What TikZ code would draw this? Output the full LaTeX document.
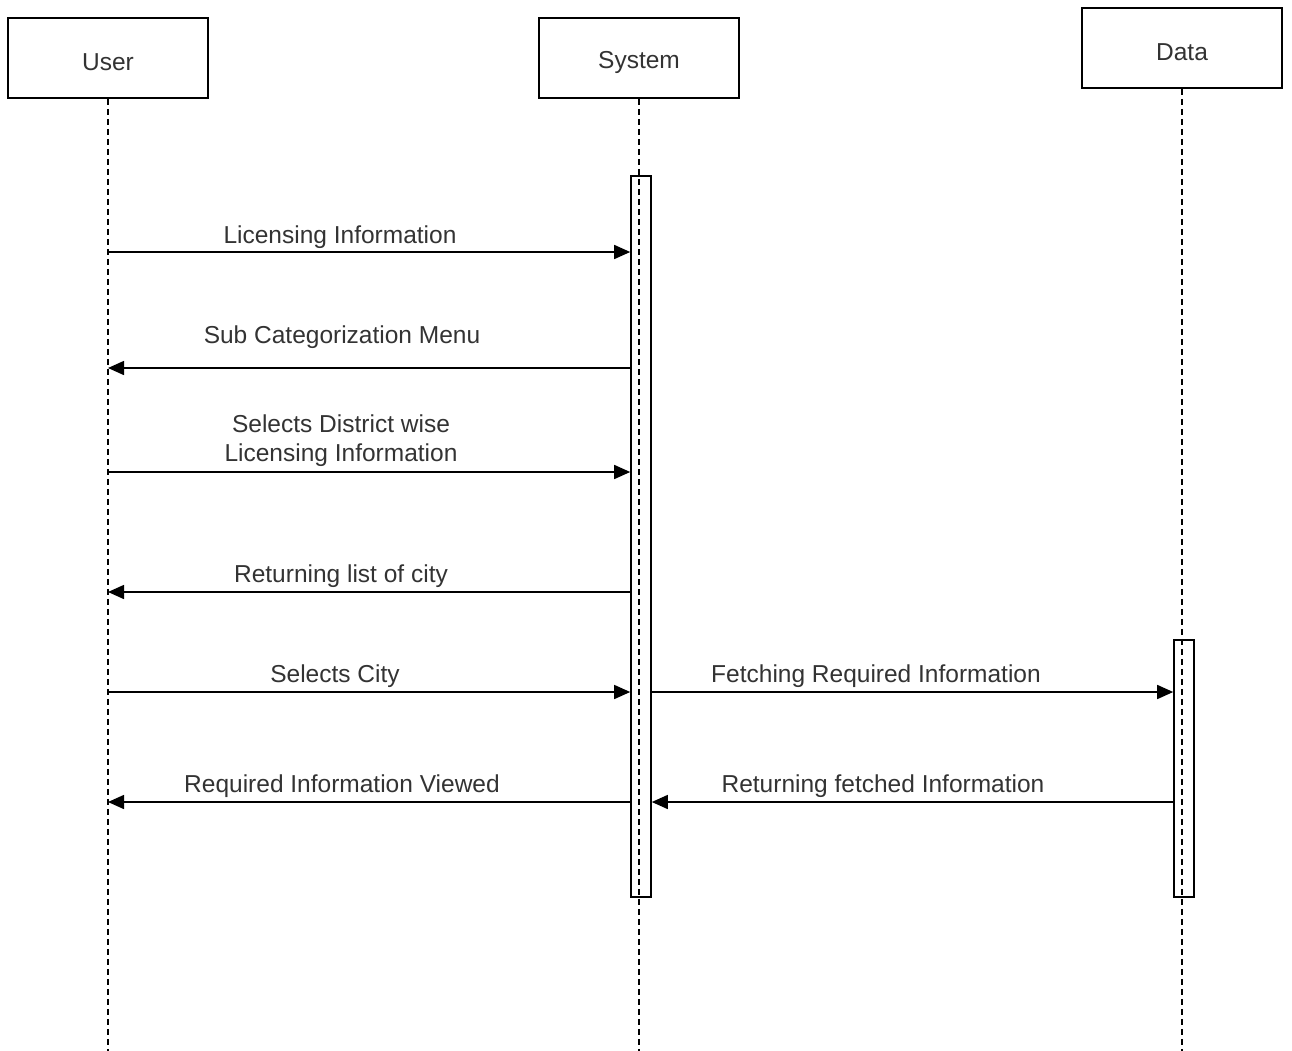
\documentclass[tikz,border=0pt]{standalone}
\usepackage{fontspec}
\setmainfont{Liberation Sans}
\usetikzlibrary{arrows.meta}
\begin{document}
\begin{tikzpicture}[x=1pt,y=-1pt,
  txt/.style={text=black!80, font=\fontsize{24.5}{29}\selectfont},
  actor/.style={draw, line width=1.6pt, minimum width=200pt, minimum height=80pt, inner sep=0pt, fill=white},
  life/.style={line width=1.3pt, dash pattern=on 6pt off 4pt},
  act/.style={draw, line width=1.6pt, fill=none},
  msg/.style={line width=1.5pt, -{Triangle[length=16pt,width=14pt]}},
  lbl/.style={txt, align=center, inner sep=0pt}
]
\useasboundingbox (0,0) rectangle (1292,1051);

% participants
\node[actor] (user) at (108,58) {};
\node[actor] (sys)  at (639,58) {};
\node[actor] (data) at (1182,48) {};
\node[lbl] (userT) at ([yshift=-4pt]user.center) {User};
\node[lbl] (sysT)  at ([yshift=-4pt]sys.center) {System};
\node[lbl] (dataT) at ([yshift=-4pt]data.center) {Data};

% lifelines
\coordinate (userEnd) at (108,1051);
\coordinate (sysEnd)  at (639,1051);
\coordinate (dataEnd) at (1182,1051);
\draw[life] (user.south) -- (userEnd);
\draw[life] (sys.south) -- (sysEnd);
\draw[life] (data.south) -- (dataEnd);

% activation bars
\node[act, minimum width=20pt, minimum height=721pt, inner sep=0pt] (sysAct) at (641,536.5) {};
\node[act, minimum width=20pt, minimum height=257pt, inner sep=0pt] (dataAct) at (1184,768.5) {};

% message anchor points
\coordinate (u1) at (108,252);  \coordinate (s1) at (sysAct.west |- u1);
\coordinate (u2) at (108,368);  \coordinate (s2) at (sysAct.west |- u2);
\coordinate (u3) at (108,472);  \coordinate (s3) at (sysAct.west |- u3);
\coordinate (u4) at (108,592);  \coordinate (s4) at (sysAct.west |- u4);
\coordinate (u5) at (108,692);  \coordinate (s5) at (sysAct.west |- u5);
\coordinate (u6) at (108,802);  \coordinate (s6) at (sysAct.west |- u6);
\coordinate (se5) at (sysAct.east |- u5); \coordinate (d5) at (dataAct.west |- u5);
\coordinate (se6) at (sysAct.east |- u6); \coordinate (d6) at (dataAct.west |- u6);

% messages
\draw[msg] (u1) -- (s1);
\draw[msg] (s2) -- (u2);
\draw[msg] (u3) -- (s3);
\draw[msg] (s4) -- (u4);
\draw[msg] (u5) -- (s5);
\draw[msg] (se5) -- (d5);
\draw[msg] (s6) -- (u6);
\draw[msg] (d6) -- (se6);

% message labels
\node[lbl] (l1) at (340,237) {Licensing Information};
\node[lbl] (l2) at (342,337) {Sub Categorization Menu};
\node[lbl] (l3) at (341,441) {Selects District wise\\Licensing Information};
\node[lbl] (l4) at (341,576) {Returning list of city};
\node[lbl] (l5) at (335,676) {Selects City};
\node[lbl] (l6) at (876,676) {Fetching Required Information};
\node[lbl] (l7) at (342,786) {Required Information Viewed};
\node[lbl] (l8) at (883,786) {Returning fetched Information};
\end{tikzpicture}
\end{document}
